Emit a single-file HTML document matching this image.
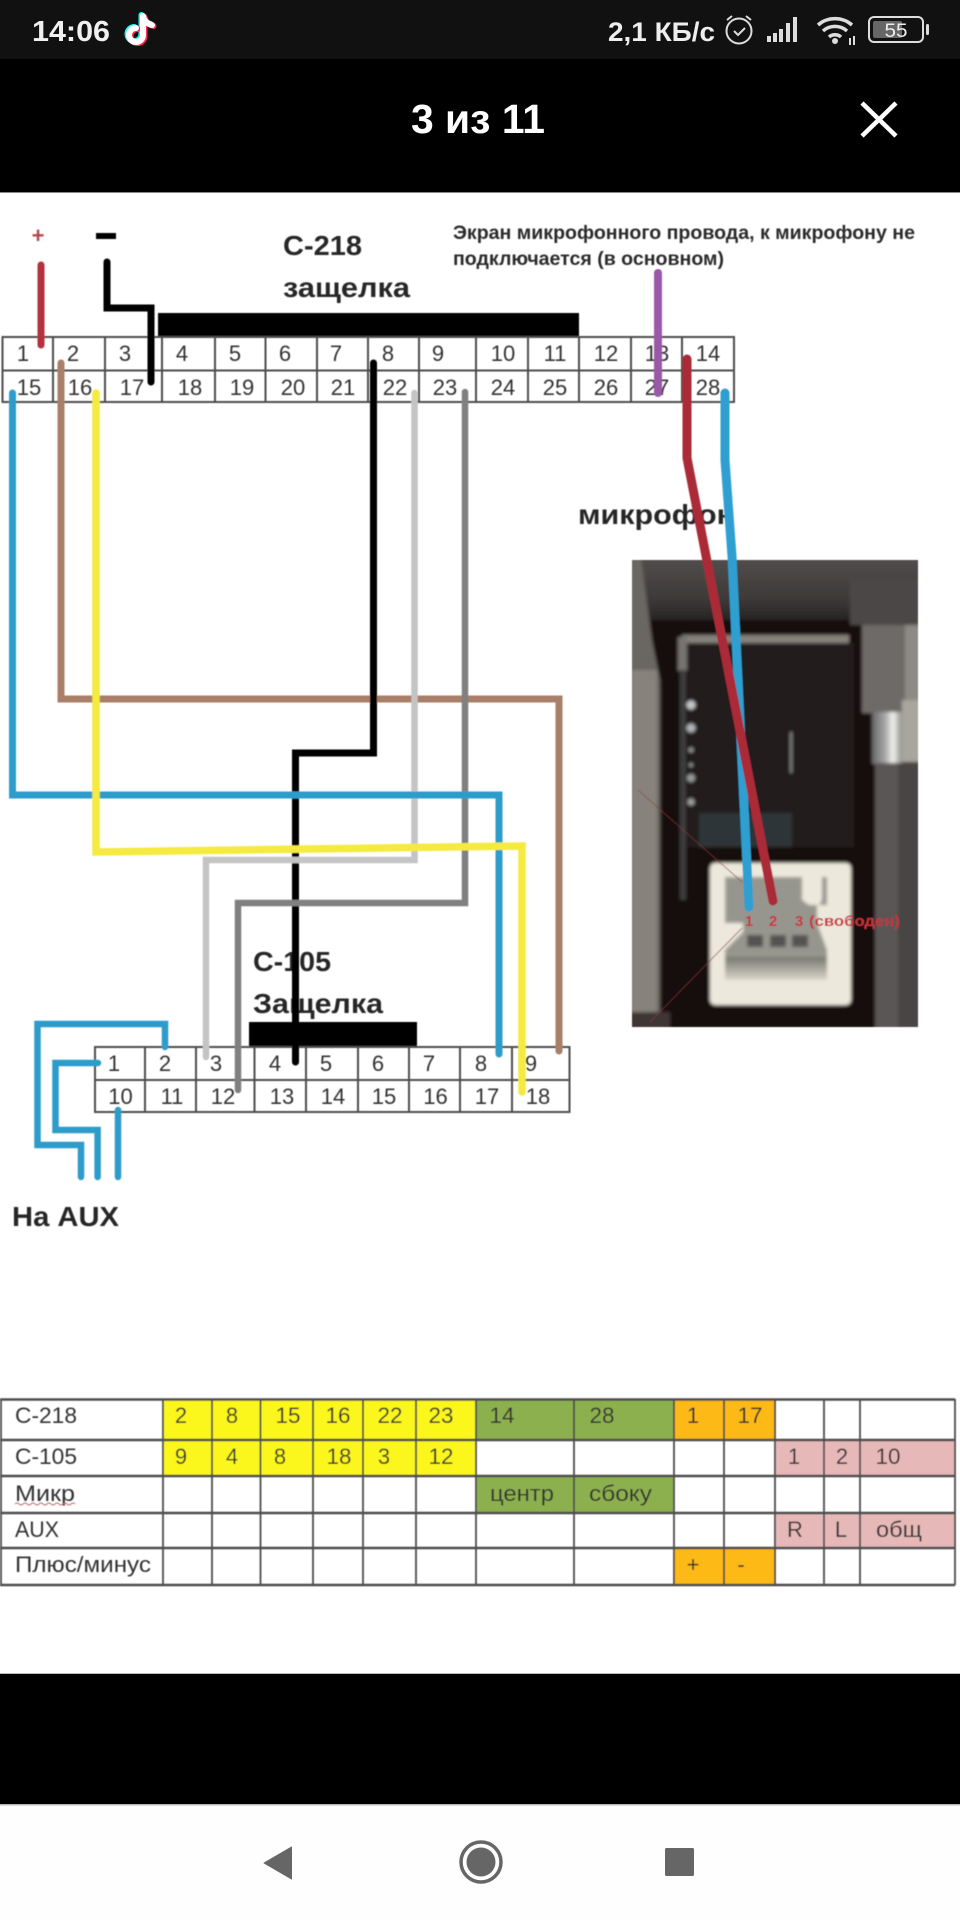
<!DOCTYPE html>
<html lang="ru"><head><meta charset="utf-8"><title>3 из 11</title>
<style>
html,body{margin:0;padding:0;background:#fff;width:960px;height:1920px;overflow:hidden}
svg{display:block}
text{font-family:"Liberation Sans","DejaVu Sans",sans-serif}
.n{font-size:22px;fill:#333;text-anchor:middle}
.t{font-size:22px;fill:#333}
.m{text-anchor:middle}
.h{font-weight:bold;fill:#262626;font-size:28px}
.w{fill:none;stroke-linejoin:miter;stroke-linecap:round}
.g{stroke:#4e4e4e;stroke-width:2;fill:none}
.s{font-size:19.5px;fill:#2b2b2b;font-weight:bold}
.r{font-size:15px;font-weight:bold;fill:#c8323a;text-anchor:middle}
</style></head><body>
<svg width="960" height="1920" viewBox="0 0 960 1920" xmlns="http://www.w3.org/2000/svg">
<defs>
<filter id="b1" x="-2%" y="-2%" width="104%" height="104%"><feGaussianBlur stdDeviation="0.6"/></filter>
<filter id="b2" x="-5%" y="-5%" width="110%" height="110%"><feGaussianBlur stdDeviation="1.6"/></filter>
<linearGradient id="top" x1="0" y1="0" x2="0" y2="1"><stop offset="0" stop-color="#565251"/><stop offset=".6" stop-color="#3e3a39"/><stop offset="1" stop-color="#1c1a1a"/></linearGradient>
<linearGradient id="ins" x1="0" y1="0" x2="0" y2="1"><stop offset="0" stop-color="#777670"/><stop offset="1" stop-color="#d9d6ca"/></linearGradient>
<linearGradient id="chr" x1="0" y1="0" x2="1" y2="0"><stop offset="0" stop-color="#666"/><stop offset=".45" stop-color="#aaa"/><stop offset=".7" stop-color="#f2f2ee"/><stop offset="1" stop-color="#8f8d88"/></linearGradient>
</defs>

<rect width="960" height="1920" fill="#fff"/>
<!-- status bar -->
<rect width="960" height="59" fill="#111"/>
<rect y="59" width="960" height="133" fill="#000"/>
<rect y="192" width="960" height="1" fill="#888"/>
<text x="32" y="41" font-size="29" font-weight="bold" fill="#f0f0f0" textLength="78" lengthAdjust="spacingAndGlyphs">14:06</text>
<g fill="none" stroke-width="6" stroke-linecap="round">
<path d="M143 16v19a7 7 0 1 1-7-7M143 16c1 5 5 8 9 9" stroke="#25f4ee" transform="translate(-1.5,-1)"/>
<path d="M143 16v19a7 7 0 1 1-7-7M143 16c1 5 5 8 9 9" stroke="#fe2c55" transform="translate(1.5,1)"/>
<path d="M143 16v19a7 7 0 1 1-7-7M143 16c1 5 5 8 9 9" stroke="#fff"/>
</g>
<text x="608" y="41" font-size="27" font-weight="bold" fill="#eee" textLength="107" lengthAdjust="spacingAndGlyphs">2,1 КБ/с</text>
<g fill="none" stroke="#ddd" stroke-width="2">
<ellipse cx="739" cy="31" rx="12.5" ry="12.5"/>
<path d="M734 31l4 4 7-7M727 20l5-4M751 20l-5-4"/>
</g>
<g fill="#ddd">
<rect x="767" y="36" width="4" height="6"/><rect x="773" y="33" width="4" height="9"/><rect x="779" y="29" width="4" height="13"/><rect x="786" y="23" width="4" height="19"/><rect x="793" y="17" width="4" height="25"/>
</g>
<g fill="none" stroke="#ddd" stroke-width="3.5">
<path d="M818 25a26 26 0 0 1 34 0"/><path d="M823 31a18 18 0 0 1 24 0"/><path d="M829 37a9 9 0 0 1 12 0"/>
</g>
<circle cx="835" cy="41" r="3" fill="#ddd"/>
<rect x="849" y="38" width="2" height="7" fill="#ddd"/><rect x="853" y="36" width="2" height="9" fill="#ddd"/>
<rect x="869" y="17" width="54" height="25" rx="5" fill="none" stroke="#ddd" stroke-width="2"/>
<rect x="873" y="21" width="29" height="17" rx="2" fill="#666"/>
<rect x="926" y="24" width="3" height="11" rx="1.5" fill="#ddd"/>
<text x="896" y="37" font-size="19" fill="#eee" text-anchor="middle" textLength="23" lengthAdjust="spacingAndGlyphs">55</text>
<!-- header -->
<text x="411" y="133" font-size="41" font-weight="bold" fill="#fff" textLength="134" lengthAdjust="spacingAndGlyphs">3 из 11</text>
<path d="M862 103l34 33M896 103l-34 33" stroke="#fff" stroke-width="4.5" fill="none"/>

<g filter="url(#b1)">
<!-- top labels -->
<text x="38" y="243" font-size="22" font-weight="bold" fill="#b5474f" text-anchor="middle">+</text>
<rect x="96" y="233" width="20" height="6" fill="#000"/>
<text class="h" x="283" y="255" textLength="79" lengthAdjust="spacingAndGlyphs">C-218</text>
<text class="h" x="283" y="297" textLength="127" lengthAdjust="spacingAndGlyphs">защелка</text>
<text class="s" x="453" y="239" textLength="462" lengthAdjust="spacingAndGlyphs">Экран микрофонного провода, к микрофону не</text>
<text class="s" x="453" y="265" textLength="271" lengthAdjust="spacingAndGlyphs">подключается (в основном)</text>
<text class="h" x="578" y="524" textLength="157" lengthAdjust="spacingAndGlyphs">микрофон</text>

<!-- upper connector -->
<rect x="158" y="313" width="421" height="24" fill="#000"/>
<path class="g" d="M2.5 337H734V402H2.5ZM2.5 370.5H734M53 337V402M105 337V402M162 337V402M215 337V402M265.500 337V402M317 337V402M368 337V402M419 337V402M476 337V402M528 337V402M579 337V402M631 337V402M682 337V402"/>
<text class="n" x="23" y="361">1</text><text class="n" x="73" y="361">2</text><text class="n" x="125" y="361">3</text><text class="n" x="182" y="361">4</text><text class="n" x="235" y="361">5</text><text class="n" x="285" y="361">6</text><text class="n" x="336" y="361">7</text><text class="n" x="388" y="361">8</text><text class="n" x="438" y="361">9</text><text class="n" x="503" y="361">10</text><text class="n" x="555" y="361">11</text><text class="n" x="606" y="361">12</text><text class="n" x="657" y="361">13</text><text class="n" x="708" y="361">14</text>
<text class="n" x="29" y="395">15</text><text class="n" x="80" y="395">16</text><text class="n" x="132" y="395">17</text><text class="n" x="190" y="395">18</text><text class="n" x="242" y="395">19</text><text class="n" x="293" y="395">20</text><text class="n" x="343" y="395">21</text><text class="n" x="395" y="395">22</text><text class="n" x="445" y="395">23</text><text class="n" x="503" y="395">24</text><text class="n" x="555" y="395">25</text><text class="n" x="606" y="395">26</text><text class="n" x="657" y="395">27</text><text class="n" x="708" y="395">28</text>

<!-- lower connector labels -->
<text class="h" x="253" y="971" textLength="78" lengthAdjust="spacingAndGlyphs">C-105</text>
<text class="h" x="253" y="1013" textLength="130" lengthAdjust="spacingAndGlyphs">Защелка</text>
<rect x="249" y="1022" width="168" height="24" fill="#000"/>
<path class="g" d="M95 1047H569.5V1112H95ZM95 1080H569.5M145 1047V1112M196 1047V1112M254.5 1047V1112M306 1047V1112M358 1047V1112M409 1047V1112M460 1047V1112M512 1047V1112"/>
<text class="n" x="114" y="1071">1</text><text class="n" x="165" y="1071">2</text><text class="n" x="216" y="1071">3</text><text class="n" x="275" y="1071">4</text><text class="n" x="326" y="1071">5</text><text class="n" x="378" y="1071">6</text><text class="n" x="429" y="1071">7</text><text class="n" x="481" y="1071">8</text><text class="n" x="531" y="1071">9</text>
<text class="n" x="120.5" y="1104">10</text><text class="n" x="172" y="1104">11</text><text class="n" x="223" y="1104">12</text><text class="n" x="282" y="1104">13</text><text class="n" x="333" y="1104">14</text><text class="n" x="384" y="1104">15</text><text class="n" x="435.5" y="1104">16</text><text class="n" x="487" y="1104">17</text><text class="n" x="538" y="1104">18</text>
<text class="h" x="12" y="1226" textLength="107" lengthAdjust="spacingAndGlyphs">На AUX</text>

<!-- photo -->
<svg x="632" y="560" width="286" height="467" viewBox="632 560 286 467">
<g filter="url(#b2)">
<rect x="625" y="550" width="300" height="80" fill="url(#top)"/>
<rect x="625" y="620" width="300" height="415" fill="#121111"/>
<path d="M625 550H640L652 640L660 680V1035H625Z" fill="#6a6662"/>
<rect x="625" y="670" width="32" height="345" fill="#87837b"/>
<rect x="625" y="670" width="7" height="345" fill="#77736c"/>
<rect x="625" y="1012" width="45" height="22" fill="#3f3434"/>
<rect x="862" y="623" width="60" height="90" fill="#6e6a68"/>
<rect x="905" y="580" width="20" height="135" fill="#8d8a85"/>
<rect x="850" y="580" width="70" height="45" fill="#4b4746"/>
<rect x="872" y="712" width="30" height="52" fill="url(#chr)"/>
<rect x="902" y="700" width="20" height="62" fill="#a8a69f"/>
<rect x="875" y="763" width="48" height="270" fill="#5a5654"/>
<rect x="898" y="763" width="24" height="270" fill="#484544"/>
<rect x="682" y="635" width="167" height="8" fill="#85817c"/>
<rect x="678" y="637" width="9" height="34" fill="#77736f"/>
<rect x="680" y="670" width="6" height="230" fill="#3c3c3c"/>
<rect x="687" y="643" width="167" height="204" fill="#241b1d"/>
<rect x="699" y="813" width="93" height="34" fill="#2e3438"/>
<rect x="790.500" y="732" width="1.2" height="41" fill="#b5b5b5"/>
<circle cx="691" cy="705" r="4.500" fill="#c5c8cc"/><circle cx="691" cy="728" r="4.500" fill="#b0b3b7"/><circle cx="691" cy="750" r="2.500" fill="#999"/><circle cx="691" cy="765" r="2" fill="#999"/><circle cx="691" cy="778" r="4" fill="#999c9f"/><circle cx="691" cy="802" r="3.500" fill="#a0a0a0"/>
<rect x="710" y="863" width="141" height="142" rx="5" fill="#ece8dc"/>
<path d="M725 877H802V900L809 905H819L822 900V877H827V905H817V923L827 950V960H725V950L743 932V923H725Z" fill="#97968e"/>
<rect x="725" y="957" width="102" height="23" fill="url(#ins)"/>
<rect x="747" y="935" width="16" height="12" fill="#55534f"/><rect x="770" y="935" width="16" height="12" fill="#55534f"/><rect x="792" y="935" width="16" height="12" fill="#55534f"/>
</g>
<path d="M638 790L742 882M742 928L650 1022" stroke="#8a3a3a" stroke-width="1" fill="none" opacity=".6"/>
</svg>
<text class="r" x="749" y="926">1</text><text class="r" x="773" y="926">2</text><text class="r" x="799" y="926">3</text>
<text class="r" x="854.500" y="926" textLength="91" lengthAdjust="spacingAndGlyphs">(свободен)</text>

<!-- wires -->
<path class="w" d="M41 265V345" stroke="#b5323e" stroke-width="7"/>
<path class="w" d="M107 262V308H151V382" stroke="#000" stroke-width="7"/>
<path class="w" d="M658 273V393" stroke="#9a58a8" stroke-width="8"/>
<path class="w" d="M725 393V460L732 556L749 907" stroke="#2e9fd0" stroke-width="9"/>
<path class="w" d="M687 359V458L773 901" stroke="#ab2b37" stroke-width="9"/>
<path class="w" d="M61 363V699H559V1051" stroke="#a87f67" stroke-width="7"/>
<path class="w" d="M373.5 363V753H295.5V1062" stroke="#000" stroke-width="7"/>
<path class="w" d="M414.5 393V860H206V1057" stroke="#c4c4c4" stroke-width="6.500"/>
<path class="w" d="M465 392V903H238V1090" stroke="#808080" stroke-width="6.500"/>
<path class="w" d="M12.5 393V795H499V1054" stroke="#2e9ccb" stroke-width="7"/>
<path class="w" d="M96 393V852L522 846V1092" stroke="#f5ea3f" stroke-width="7.500"/>
<path class="w" d="M165 1047V1024H37.5V1145H81V1177" stroke="#2e9ccb" stroke-width="6.500"/>
<path class="w" d="M98 1063H55.5V1130H97.6V1177" stroke="#2e9ccb" stroke-width="6.500"/>
<path class="w" d="M118 1110V1177" stroke="#2e9ccb" stroke-width="6.500"/>

<!-- bottom table -->
<rect x="162" y="1399" width="314" height="77" fill="#fbf71e"/>
<rect x="476" y="1399" width="198" height="41" fill="#8db04f"/>
<rect x="476" y="1476" width="198" height="37" fill="#8db04f"/>
<rect x="674" y="1399" width="101" height="41" fill="#fdb913"/>
<rect x="674" y="1548" width="101" height="37" fill="#fdb913"/>
<rect x="775" y="1440" width="180" height="36" fill="#e6b8b7"/>
<rect x="775" y="1513" width="180" height="35" fill="#e6b8b7"/>
<path d="M0 1399.500H955M0 1440H955M0 1476H955M0 1513H955M0 1548H955M0 1585H955" stroke="#4e4e4e" stroke-width="2.600" fill="none"/>
<path d="M1 1399V1585M163 1399V1585M212 1399V1585M260.500 1399V1585M313 1399V1585M363 1399V1585M416 1399V1585M476 1399V1585M574 1399V1585M674 1399V1585M724 1399V1585M775 1399V1585M824 1399V1585M860 1399V1585M955 1399V1585" stroke="#4e4e4e" stroke-width="1.800" fill="none"/>
<text class="t" x="15" y="1423" textLength="62" lengthAdjust="spacingAndGlyphs">C-218</text>
<text class="t m" x="181" y="1423">2</text><text class="t m" x="232" y="1423">8</text><text class="t m" x="288" y="1423" textLength="25" lengthAdjust="spacingAndGlyphs">15</text><text class="t m" x="338" y="1423" textLength="25" lengthAdjust="spacingAndGlyphs">16</text><text class="t m" x="390" y="1423" textLength="25" lengthAdjust="spacingAndGlyphs">22</text><text class="t m" x="441" y="1423" textLength="25" lengthAdjust="spacingAndGlyphs">23</text><text class="t m" x="502" y="1423" textLength="25" lengthAdjust="spacingAndGlyphs">14</text><text class="t m" x="602" y="1423" textLength="25" lengthAdjust="spacingAndGlyphs">28</text><text class="t m" x="693" y="1423">1</text><text class="t m" x="750" y="1423" textLength="25" lengthAdjust="spacingAndGlyphs">17</text>
<text class="t" x="15" y="1464" textLength="62" lengthAdjust="spacingAndGlyphs">C-105</text>
<text class="t m" x="181" y="1464">9</text><text class="t m" x="232" y="1464">4</text><text class="t m" x="280" y="1464">8</text><text class="t m" x="339" y="1464" textLength="25" lengthAdjust="spacingAndGlyphs">18</text><text class="t m" x="384" y="1464">3</text><text class="t m" x="441" y="1464" textLength="25" lengthAdjust="spacingAndGlyphs">12</text><text class="t m" x="794" y="1464">1</text><text class="t m" x="842" y="1464">2</text><text class="t m" x="888" y="1464" textLength="25" lengthAdjust="spacingAndGlyphs">10</text>
<text class="t" x="15" y="1501" textLength="60" lengthAdjust="spacingAndGlyphs">Микр</text>
<path d="M15 1504q2 -2 4 0t4 0t4 0t4 0t4 0t4 0t4 0t4 0t4 0t4 0t4 0t4 0t4 0t4 0t4 0" stroke="#c46a6a" stroke-width="1" fill="none"/>
<text class="t" x="490" y="1501" textLength="64" lengthAdjust="spacingAndGlyphs">центр</text>
<text class="t" x="589" y="1501" textLength="63" lengthAdjust="spacingAndGlyphs">сбоку</text>
<text class="t" x="15" y="1537" textLength="44" lengthAdjust="spacingAndGlyphs">AUX</text>
<text class="t m" x="795" y="1537">R</text><text class="t m" x="841" y="1537">L</text><text class="t" x="876" y="1537" textLength="46" lengthAdjust="spacingAndGlyphs">общ</text>
<text class="t" x="15" y="1572" textLength="136" lengthAdjust="spacingAndGlyphs">Плюс/минус</text>
<text class="t m" x="693" y="1572">+</text><text class="t m" x="741" y="1572">-</text>
</g>

<!-- bottom bars -->
<rect y="1673" width="960" height="1" fill="#bbb"/>
<rect y="1674" width="960" height="130" fill="#000"/>
<rect y="1804" width="960" height="1.5" fill="#bbb"/>
<rect y="1805.5" width="960" height="114.5" fill="#fefefe"/>
<path d="M291.5 1847V1879L264 1863Z" fill="#666" stroke="#666" stroke-width="1" stroke-linejoin="round"/>
<circle cx="481" cy="1862" r="20" fill="none" stroke="#666" stroke-width="3.5"/>
<circle cx="481" cy="1862" r="14.5" fill="#666"/>
<rect x="665" y="1848" width="29" height="28" rx="1.5" fill="#666"/>
</svg>
</body></html>
